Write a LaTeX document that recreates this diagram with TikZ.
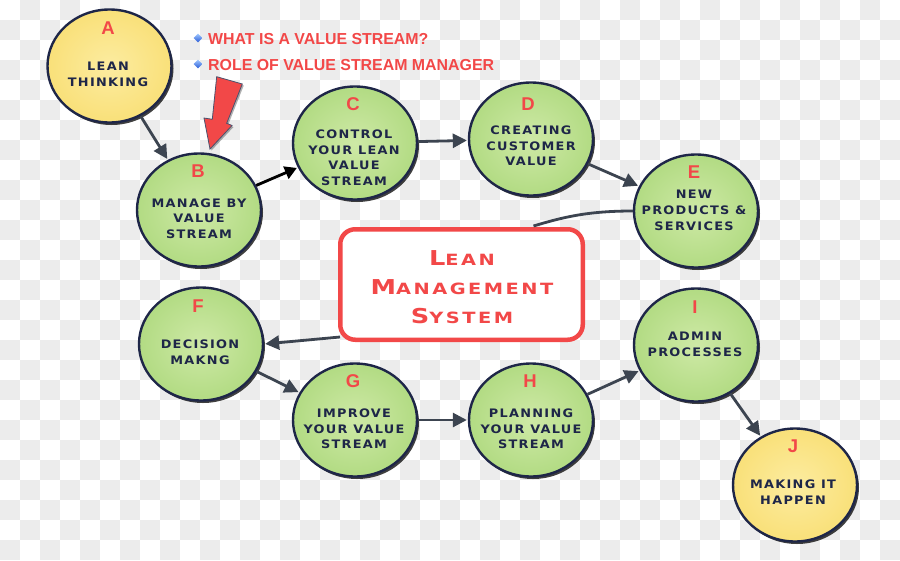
\documentclass[tikz,border=0pt]{standalone}
\usepackage{fontspec}
\usetikzlibrary{shapes.geometric,shadows,arrows.meta,calc}
\newfontfamily\cop{DejaVu Sans}[UprightFont=* Bold, FakeStretch=1.1, LetterSpace=11]
\newfontfamily\copbox{DejaVu Sans}[UprightFont=* Bold, FakeStretch=1.25, LetterSpace=16]
\newfontfamily\arb{Liberation Sans}[UprightFont=* Bold]
\definecolor{navy}{RGB}{30,38,72}
\definecolor{lred}{RGB}{242,72,72}
\definecolor{gin}{RGB}{206,233,166}
\definecolor{gout}{RGB}{150,205,96}
\definecolor{yin}{RGB}{252,236,160}
\definecolor{yout}{RGB}{246,212,82}
\definecolor{arr}{RGB}{60,68,80}
\definecolor{chk}{RGB}{236,236,236}
\definecolor{bin}{RGB}{160,200,255}
\definecolor{bout}{RGB}{40,90,215}
\pgfdeclareradialshading{gsh}{\pgfpoint{0bp}{0bp}}{color(0bp)=(gin); color(50bp)=(gout)}
\pgfdeclareradialshading{ysh}{\pgfpoint{0bp}{0bp}}{color(0bp)=(yin); color(50bp)=(yout)}
\tikzset{
 circ/.style={ellipse, draw=navy, line width=2.4pt, minimum width=124pt, minimum height=113pt, inner sep=0pt,
   drop shadow={shadow xshift=2pt, shadow yshift=-2.5pt, opacity=.75, fill=black}},
 gcirc/.style={circ, shading=gsh},
 ycirc/.style={circ, shading=ysh},
 lett/.style={font=\arb\fontsize{18.5}{18.5}\selectfont, text=lred, inner sep=0pt},
 ctext/.style={font=\cop\fontsize{11.7}{15.8}\selectfont, text=navy, align=center, inner sep=0pt},
 conn/.style={draw=arr, line width=2.8pt, -{Triangle[length=14pt,width=14pt]}, shorten >=1pt},
 bconn/.style={draw=black, line width=2.8pt, -{Triangle[length=12pt,width=13pt]}, shorten >=1pt},
 bullet/.style={diamond, minimum size=9pt, inner sep=0pt, top color=bin, bottom color=bout},
 btext/.style={anchor=base west, font=\arb\fontsize{15.9}{15.9}\selectfont, text=lred, inner sep=0pt},
}
\newcommand\bigL[1]{{\fontsize{20.5}{29}\selectfont #1}}
\begin{document}
\begin{tikzpicture}[x=1pt,y=-1pt]
\useasboundingbox (0,0) rectangle (900,560);
% checkerboard background
\foreach \j in {0,...,27}{
  \foreach \i in {0,...,44}{
    \pgfmathtruncatemacro\p{mod(\i+\j,2)}
    \ifnum\p=1 \fill[chk] (\i*20,\j*20) rectangle ++(20,20); \fi
  }
}
% central box
\node[draw=lred, line width=4.5pt, rounded corners=15pt, fill=white, minimum width=242.5pt, minimum height=110.5pt] (Box) at (461.5,284.5) {};
\node[font=\copbox\fontsize{15.5}{29}\selectfont, text=lred, align=center, inner sep=0pt] (BoxT) at (462,287.4)
  {\bigL{L}EAN\\\bigL{M}ANAGEMENT\\\bigL{S}YSTEM};
% circles
\node[ycirc] (A) at (109.5,66) {};
\node[gcirc] (B) at (199,210) {};
\node[gcirc] (C) at (355,143) {};
\node[gcirc] (D) at (531,139) {};
\node[gcirc] (E) at (696,211) {};
\node[gcirc] (F) at (201,344) {};
\node[gcirc] (G) at (355,420) {};
\node[gcirc] (H) at (531,420) {};
\node[gcirc] (I) at (696,345) {};
\node[ycirc] (J) at (795,485) {};
% letters
\node[lett] (Al) at (108,28.5) {A};
\node[lett] (Bl) at (198,171.5) {B};
\node[lett] (Cl) at (353,104) {C};
\node[lett] (Dl) at (528,104) {D};
\node[lett] (El) at (694,172) {E};
\node[lett] (Fl) at (198,306) {F};
\node[lett] (Gl) at (353,381.5) {G};
\node[lett] (Hl) at (530,381.5) {H};
\node[lett] (Il) at (695,306.7) {I};
\node[lett] (Jl) at (793,446) {J};
% texts
\node[ctext] (At) at (108,74.7) {LEAN\\THINKING};
\node[ctext] (Bt) at (199,218.7) {MANAGE BY\\VALUE\\STREAM};
\node[ctext] (Ct) at (354,157.7) {CONTROL\\YOUR LEAN\\VALUE\\STREAM};
\node[ctext] (Dt) at (531,145.8) {CREATING\\CUSTOMER\\VALUE};
\node[ctext] (Et) at (694,210.3) {NEW\\PRODUCTS \&\\SERVICES};
\node[ctext] (Ft) at (200,352) {DECISION\\MAKNG};
\node[ctext] (Gt) at (354,428.8) {IMPROVE\\YOUR VALUE\\STREAM};
\node[ctext] (Ht) at (531,428.8) {PLANNING\\YOUR VALUE\\STREAM};
\node[ctext] (It) at (695,344.7) {ADMIN\\PROCESSES};
\node[ctext] (Jt) at (793,491.8) {MAKING IT\\HAPPEN};
% bullets
\node[bullet] (d1) at (198,38) {};
\node[bullet] (d2) at (198,64) {};
\node[btext] (q1) at (208,44) {WHAT IS A VALUE STREAM?};
\node[btext] (q2) at (208,70) {ROLE OF VALUE STREAM MANAGER};
% red pointer arrow
\fill[lred, draw=navy!80, line width=0.8pt, drop shadow={shadow xshift=1.5pt, shadow yshift=-1.5pt, opacity=.3, fill=black}]
  (216.7,76.7) -- (242.3,84) -- (226.7,123.3) -- (232,125.5) -- (210,149) -- (204,118) -- (212.3,119.3) -- cycle;
% connectors
\draw[conn] (A) -- (B);
\draw[bconn] (B) -- (C);
\draw[conn] (C) -- (D);
\draw[conn] (D) -- (E);
\coordinate (bt) at ($(Box.north)+(72,-1)$);
\draw[draw=arr, line width=2.8pt] (E.west) .. controls ($(E.west)+(-45,0)$) and ($(bt)+(30,-9)$) .. (bt);
\coordinate (bf) at ($(Box.south west)+(2,-5)$);
\draw[conn] (bf) -- (F.east);
\draw[conn] (F) -- (G);
\draw[conn] (G) -- (H);
\draw[conn] (H) -- (I);
\draw[conn] (I) -- (J);
\end{tikzpicture}
\end{document}
